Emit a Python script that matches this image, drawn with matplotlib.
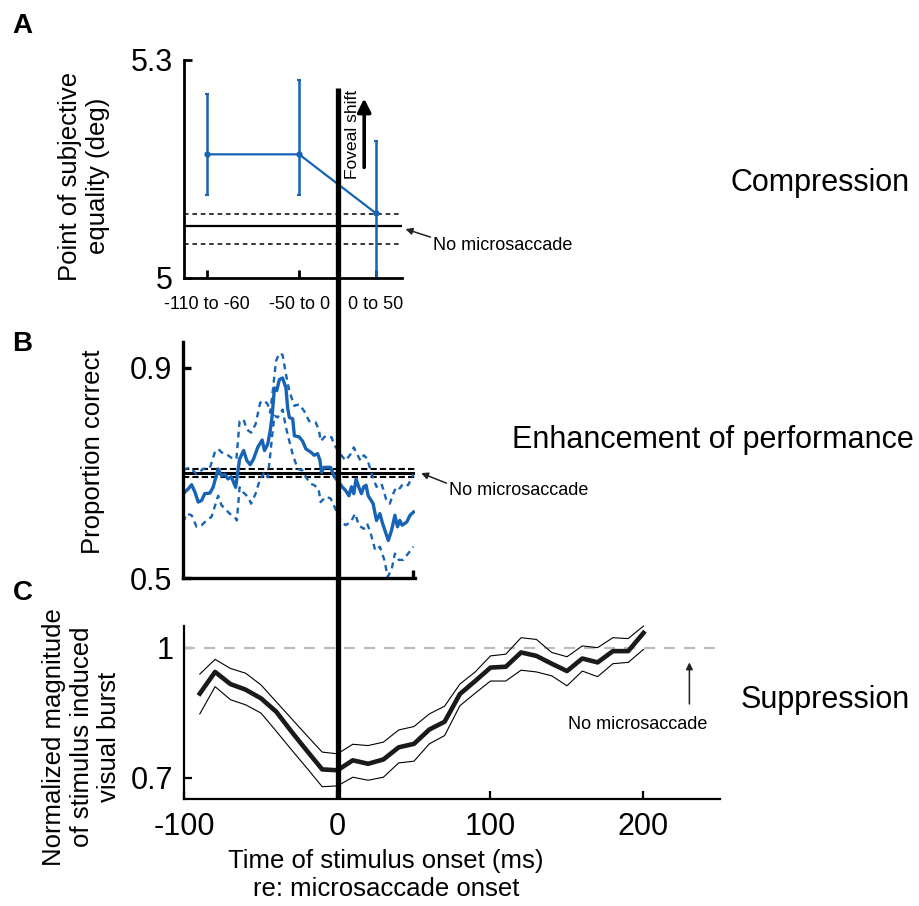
import matplotlib
matplotlib.use("Agg")
import matplotlib.pyplot as plt
from matplotlib.lines import Line2D

plt.rcParams["font.family"] = ["Liberation Sans", "DejaVu Sans"]
plt.rcParams["axes.unicode_minus"] = False

# ---------------- data ----------------
# A: point of subjective equality per time bin
a_bins = ["-110 to -60", "-50 to 0", "0 to 50"]
a_centers = [-85, -25, 25]
a_pse = [5.170, 5.170, 5.089]
a_err_hi = [5.253, 5.272, 5.189]
a_err_lo = [5.114, 5.114, 4.990]
a_nomicro = 5.071
a_nomicro_ci = [5.047, 5.088]

# B: proportion correct vs time
b_t_mean = [-100, -96.8, -94.6, -92.4, -90.3, -88.1, -86, -82.7, -80.6, -77.3, -75.1, -73,
            -70.9, -68.7, -65.9, -63.3, -60.7, -58.6, -56.4, -54.2, -51.5, -48.6, -47.1,
            -45, -43.4, -42.1, -40.6, -39.1, -37.4, -35.3, -33.1, -32, -30.9, -28.7, -27.6,
            -24.5, -22.3, -20.1, -16.9, -14.7, -12.5, -11, -9.9, -8.3, -4, -1.9, 1.3, 3.5,
            5.8, 7.9, 9.6, 11.1, 12.6, 14.3, 16.1, 17.6, 19.1, 20.5, 23.7, 25.9, 28.1, 29.6,
            31.4, 33.6, 35.7, 37.9, 39.6, 41.1, 42.6, 45.6, 47.8, 50]
b_mean = [0.661, 0.670, 0.678, 0.664, 0.645, 0.648, 0.661, 0.662, 0.673, 0.708, 0.695, 0.698,
          0.689, 0.693, 0.673, 0.727, 0.743, 0.724, 0.716, 0.727, 0.749, 0.763, 0.743,
          0.755, 0.780, 0.809, 0.862, 0.857, 0.878, 0.881, 0.862, 0.824, 0.806, 0.803, 0.771,
          0.769, 0.761, 0.746, 0.740, 0.734, 0.737, 0.725, 0.702, 0.711, 0.711, 0.695, 0.683, 0.674,
          0.667, 0.657, 0.674, 0.661, 0.689, 0.674, 0.661, 0.674, 0.677, 0.657, 0.642, 0.610, 0.623, 0.607,
          0.591, 0.572, 0.591, 0.620, 0.598, 0.610, 0.601, 0.607, 0.620, 0.626]
b_t_hi = [-100, -96.8, -94.6, -91.4, -87, -82.7, -79.5, -77.3, -74, -70.9, -67.6, -65.4, -63.3,
          -60.7, -58.6, -55.8, -52.9, -49.9, -47.1, -45, -43.4, -41.7, -39.6, -37.4, -35.3,
          -33.1, -30.9, -27.6, -24.5, -21.2, -18, -13.6, -11.5, -10.5, -7.2, -3.3, -1.9, 2.4,
          5.8, 9, 11.1, 13.3, 15.4, 17.6, 19.8, 22.8, 25.9, 29.2, 32.4, 34.6, 36.8, 38.9, 41.1,
          43.2, 46.5, 50]
b_hi = [0.705, 0.710, 0.708, 0.698, 0.708, 0.710, 0.739, 0.746, 0.737, 0.734, 0.727, 0.727, 0.799,
        0.802, 0.783, 0.777, 0.793, 0.834, 0.838, 0.831, 0.815, 0.856, 0.913, 0.928, 0.925,
        0.888, 0.856, 0.828, 0.831, 0.818, 0.799, 0.796, 0.780, 0.761, 0.771, 0.768, 0.755, 0.736,
        0.724, 0.736, 0.749, 0.736, 0.724, 0.734, 0.728, 0.698, 0.674, 0.680, 0.648, 0.642, 0.661,
        0.674, 0.671, 0.680, 0.677, 0.698]
b_t_lo = [-100, -97.9, -94.6, -91.4, -88.1, -84.9, -81.6, -77.3, -75.1, -73, -69.8, -66.5, -65.1,
          -63.3, -61.1, -57.9, -55.8, -52.9, -50.3, -47.1, -45, -43.4, -42.1, -40.6, -38.5,
          -35.3, -33.1, -30.9, -28.7, -25.5, -22.3, -20.1, -16.9, -14.7, -11.9, -10.5, -7.2, -4,
          -1.9, 2.4, 5.8, 9, 12.1, 14.3, 17.6, 19.8, 21.9, 25.1, 28.1, 31, 33.2, 35.7, 37.9, 40.4,
          43.2, 46.5, 50]
b_lo = [0.607, 0.623, 0.620, 0.598, 0.601, 0.610, 0.617, 0.657, 0.639, 0.633, 0.623, 0.617, 0.610,
        0.673, 0.664, 0.655, 0.642, 0.661, 0.686, 0.702, 0.692, 0.733, 0.771, 0.809, 0.806,
        0.821, 0.787, 0.761, 0.736, 0.708, 0.705, 0.692, 0.680, 0.677, 0.671, 0.645, 0.655, 0.652,
        0.639, 0.610, 0.601, 0.607, 0.623, 0.601, 0.594, 0.604, 0.588, 0.553, 0.560, 0.535, 0.503,
        0.516, 0.547, 0.535, 0.535, 0.547, 0.560]
b_nomicro = 0.700
b_nomicro_ci = [0.692, 0.708]

# C: normalized visual burst vs time
c_t = [-90, -80, -70, -60, -50, -40, -30, -20, -10, 0, 10, 20, 30, 40, 50, 60, 70, 80, 90,
       100, 110, 120, 130, 140, 150, 160, 170, 180, 190, 200]
c_mean = [0.894, 0.944, 0.916, 0.903, 0.883, 0.852, 0.806, 0.762, 0.719, 0.717, 0.740, 0.732,
          0.742, 0.770, 0.778, 0.811, 0.829, 0.893, 0.923, 0.954, 0.956, 0.989, 0.981, 0.963,
          0.946, 0.975, 0.966, 0.992, 0.992, 1.034]
c_hi = [0.939, 0.973, 0.952, 0.941, 0.914, 0.875, 0.836, 0.797, 0.759, 0.755, 0.777, 0.774,
        0.782, 0.810, 0.818, 0.847, 0.865, 0.916, 0.944, 0.981, 0.985, 1.023, 1.019, 0.989,
        0.979, 1.004, 1.000, 1.023, 1.021, 1.050]
c_lo = [0.847, 0.910, 0.880, 0.868, 0.849, 0.807, 0.764, 0.722, 0.679, 0.681, 0.701, 0.694,
        0.701, 0.734, 0.738, 0.778, 0.797, 0.866, 0.895, 0.923, 0.923, 0.948, 0.944, 0.935,
        0.912, 0.946, 0.933, 0.963, 0.966, 0.996]

BLUE = "#1763b5"
W, H = 920, 906


def box(left, top, right, bottom):
    # pixel box -> figure fraction
    return [left / W, 1 - bottom / H, (right - left) / W, (bottom - top) / H]


def style(ax, lw):
    for s in ["top", "right"]:
        ax.spines[s].set_visible(False)
    for s in ["left", "bottom"]:
        ax.spines[s].set_linewidth(lw)
    ax.tick_params(direction="in", length=6, width=lw, labelsize=22, pad=8)


fig = plt.figure(figsize=(9.2, 9.06), dpi=100)

# ---------------- A ----------------
ax_a = fig.add_axes(box(184.3, 60, 401.7, 277.7))
style(ax_a, 2.0)
ax_a.set_xlim(-100, 42)
ax_a.set_ylim(5, 5.3)
ax_a.set_yticks([5, 5.3])
ax_a.set_yticklabels(["5", "5.3"])
ax_a.set_xticks(a_centers)
ax_a.set_xticklabels(a_bins, fontsize=13)
ax_a.tick_params(axis="x", pad=13)
ax_a.axhline(a_nomicro, color="black", lw=1.6)
for v in a_nomicro_ci:
    ax_a.axhline(v, color="black", lw=1.1, ls=(0, (3, 2.5)))
yerr = [[m - lo for m, lo in zip(a_pse, a_err_lo)], [hi - m for m, hi in zip(a_pse, a_err_hi)]]
ax_a.errorbar(a_centers, a_pse, yerr=yerr, color=BLUE, lw=1.6, elinewidth=1.8,
              capsize=1.5, capthick=1.5, marker="o", ms=3.5)
ax_a.text(10, 5.197, "Foveal shift", rotation=90, ha="center", va="center", fontsize=12.5)
ax_a.annotate("", xy=(17.5, 5.247), xytext=(17.5, 5.152), annotation_clip=False,
              arrowprops=dict(arrowstyle="-|>", lw=2.6, color="black", mutation_scale=20,
                              shrinkA=0, shrinkB=0))
ax_a.annotate("", xy=(44.5, 5.067), xytext=(60.8, 5.056), annotation_clip=False,
              arrowprops=dict(arrowstyle="-|>", lw=1.1, color="#222222", mutation_scale=10,
                              shrinkA=0, shrinkB=0))
ax_a.text(62.5, 5.045, "No microsaccade", ha="left", va="center", fontsize=13, clip_on=False)
ax_a.set_ylabel("Point of subjective\nequality (deg)", fontsize=18.5, va="center")
ax_a.yaxis.set_label_coords(-0.46, 0.467)

# ---------------- B ----------------
ax_b = fig.add_axes(box(183.3, 341.7, 415, 578.3))
style(ax_b, 2.4)
ax_b.set_xlim(-100, 51)
ax_b.set_ylim(0.5, 0.95)
ax_b.set_yticks([0.5, 0.9])
ax_b.set_yticklabels(["0.5", "0.9"])
ax_b.set_xticks([50])
ax_b.set_xticklabels([""])
ax_b.axhline(b_nomicro, color="black", lw=2.2)
for v in b_nomicro_ci:
    ax_b.axhline(v, color="black", lw=1.5, ls=(0, (3, 1.5)))
ax_b.plot(b_t_hi, b_hi, color=BLUE, lw=1.7, ls=(0, (2.5, 2)))
ax_b.plot(b_t_lo, b_lo, color=BLUE, lw=1.7, ls=(0, (2.5, 2)))
ax_b.plot(b_t_mean, b_mean, color=BLUE, lw=2.4)
ax_b.annotate("", xy=(55, 0.700), xytext=(71.5, 0.681), annotation_clip=False,
              arrowprops=dict(arrowstyle="-|>", lw=1.1, color="#222222", mutation_scale=10,
                              shrinkA=0, shrinkB=0))
ax_b.text(73, 0.667, "No microsaccade", ha="left", va="center", fontsize=13, clip_on=False)
ax_b.set_ylabel("Proportion correct", fontsize=18.5, va="center")
ax_b.yaxis.set_label_coords(-0.39, 0.534)

# ---------------- C ----------------
ax_c = fig.add_axes(box(184.5, 626, 720, 799.3))
style(ax_c, 1.6)
ax_c.set_xlim(-100, 250)
ax_c.set_ylim(0.65, 1.05)
ax_c.set_xticks([-100, 0, 100, 200])
ax_c.set_yticks([0.7, 1])
ax_c.set_yticklabels(["0.7", "1"])
ax_c.tick_params(axis="x", pad=9)
ax_c.axhline(1.0, color="#bdbdbd", lw=1.6, ls=(0, (5, 4)))
ax_c.plot(c_t, c_hi, color="black", lw=0.8, clip_on=False)
ax_c.plot(c_t, c_lo, color="black", lw=0.8)
ax_c.plot(c_t, c_mean, color="#1a1a1a", lw=3.3, clip_on=False)
ax_c.annotate("", xy=(230, 0.966), xytext=(230, 0.870),
              arrowprops=dict(arrowstyle="-|>", lw=1.1, color="#222222", mutation_scale=10,
                              shrinkA=0, shrinkB=0))
ax_c.text(196, 0.822, "No microsaccade", ha="center", va="center", fontsize=13)
ax_c.set_ylabel("Normalized magnitude\nof stimulus induced\nvisual burst", fontsize=18.5,
                va="center")
ax_c.yaxis.set_label_coords(-0.192, 0.361)
ax_c.set_xlabel("Time of stimulus onset (ms)\nre: microsaccade onset", fontsize=18.5,
                va="center")
ax_c.xaxis.set_label_coords(0.376, -0.435)

# thick vertical line at microsaccade onset spanning all panels
inv = fig.transFigure.inverted()
x0, y0 = inv.transform(ax_c.transData.transform((0, 0.65)))
x1, y1 = inv.transform(ax_a.transData.transform((0, 5.261)))
fig.add_artist(Line2D([x0, x0], [y0, y1], color="black", lw=3.8, transform=fig.transFigure,
                      solid_capstyle="butt"))

# side labels
fig.text(910 / W, 1 - 183 / H, "Compression", ha="right", va="center", fontsize=22)
fig.text(914 / W, 1 - 440 / H, "Enhancement of performance", ha="right", va="center", fontsize=22)
fig.text(910 / W, 1 - 700 / H, "Suppression", ha="right", va="center", fontsize=22)

# panel letters
for letter, (px, py) in zip("ABC", [(22.5, 26), (22, 344), (23, 593)]):
    fig.text(px / W, 1 - py / H, letter, ha="center", va="center", fontsize=20,
             fontweight="bold")

fig.savefig("out.png", dpi=100)
